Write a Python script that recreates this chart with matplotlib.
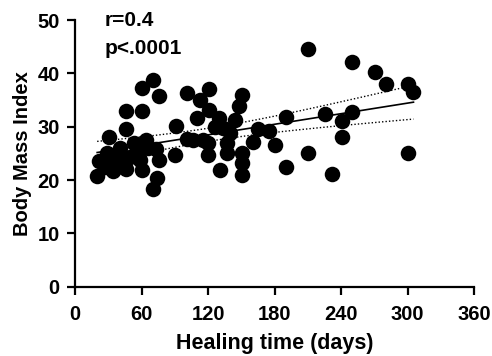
import numpy as np
import matplotlib
matplotlib.use("Agg")
import matplotlib.pyplot as plt

plt.rcParams['font.family'] = ['Liberation Sans', 'DejaVu Sans']
plt.rcParams['font.weight'] = 'bold'

healing_days = [20, 22, 31, 34.6, 37.6, 40.6, 40.6, 28.6, 31.6, 45.8, 45.8, 46, 49.6,
                55.7, 58.7, 60, 60.7, 60.7, 64, 70.7, 70.7, 74.3, 76, 73, 76, 91, 90,
                100.8, 100.8, 112.8, 121, 150.4, 148, 121, 110.4, 130.2, 144.4, 126.4,
                133.8, 190.4, 165.4, 175.4, 160.9, 180.5, 210.6, 190.4, 130.9, 150.4,
                150.4, 150.4, 137, 137, 120.3, 120.3, 106.8, 115.8, 140, 210.6, 250.3,
                270.8, 280.7, 300, 305.4, 225.6, 250.3, 240.7, 240.7, 232.3, 300,
                27, 53, 66]
bmi = [20.8, 23.5, 28, 21.6, 22.5, 23.5, 26, 25, 24.4, 33, 29.6, 22, 24.4,
       25.6, 23.8, 21.9, 37.2, 33, 27.5, 38.7, 18.3, 20.3, 23.8, 25.8, 35.8, 30.1, 24.7,
       36.4, 27.7, 35, 37, 36, 33.8, 33.1, 31.6, 31.6, 31.3, 30,
       29.7, 31.8, 29.5, 29.1, 27.2, 26.6, 25.1, 22.4, 21.9, 25,
       23.2, 21, 26.9, 25, 26.9, 24.7, 27.5, 27.5, 28.8, 44.6, 42.1,
       40.3, 38, 38, 36.5, 32.4, 32.8, 31.1, 28, 21.1, 25,
       22.5, 27, 26]

x_ticks = [0, 60, 120, 180, 240, 300, 360]
y_ticks = [0, 10, 20, 30, 40, 50]
annot = ["r=0.4", "p<.0001"]

x = np.array(healing_days)
y = np.array(bmi)

fig = plt.figure(figsize=(4.92, 3.56), dpi=100)
ax = fig.add_axes([75/492, 1-286.7/356, (474-75)/492, (286.7-20)/356])

ax.scatter(x, y, s=125, color='black', zorder=3, linewidths=0)

# linear fit and 95% CI band
n = len(x)
b, a = np.polyfit(x, y, 1)
xx = np.linspace(x.min(), x.max(), 100)
yy = a + b*xx
resid = y - (a + b*x)
s = np.sqrt(np.sum(resid**2)/(n-2))
se = s*np.sqrt(1/n + (xx-x.mean())**2/np.sum((x-x.mean())**2))
t = 1.995
ax.plot(xx, yy, color='black', lw=1.2, zorder=2)
ax.plot(xx, yy + t*se, color='black', lw=1.0, ls=(0, (1, 1.5)), zorder=2)
ax.plot(xx, yy - t*se, color='black', lw=1.0, ls=(0, (1, 1.5)), zorder=2)

ax.set_xlim(0, 360)
ax.set_ylim(0, 50)
ax.set_xticks(x_ticks)
ax.set_yticks(y_ticks)
ax.tick_params(width=1.6, length=6, labelsize=14.5, pad=5)
ax.tick_params(axis='x', pad=7)
for lab in ax.get_xticklabels() + ax.get_yticklabels():
    lab.set_fontweight('bold')
for sp in ['top', 'right']:
    ax.spines[sp].set_visible(False)
for sp in ['left', 'bottom']:
    ax.spines[sp].set_linewidth(1.6)
ax.set_xlabel('Healing time (days)', fontsize=15.5, fontweight='bold', labelpad=7)
ax.set_ylabel('Body Mass Index', fontsize=14.5, fontweight='bold', labelpad=4)
ax.text(0.075, 1.035, annot[0], transform=ax.transAxes, fontsize=15, fontweight='bold', va='top')
ax.text(0.075, 0.93, annot[1], transform=ax.transAxes, fontsize=15, fontweight='bold', va='top')
for c in ax.collections:
    c.set_clip_on(False)

fig.savefig('out.png', dpi=100)
